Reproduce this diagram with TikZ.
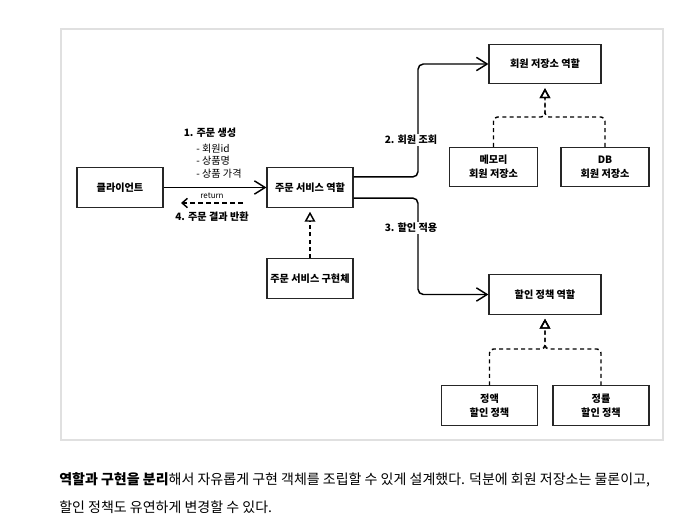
\documentclass[tikz,border=0pt]{standalone}
\usepackage{fontspec}
\setmainfont{Noto Sans CJK KR}
\usetikzlibrary{arrows.meta,positioning}

\begin{document}
\begin{tikzpicture}[x=0.75pt,y=-0.75pt,
    box node/.style={draw=black!85,line width=0.85pt,minimum height=29.5pt,inner sep=0pt,
      align=center,font=\bfseries\fontsize{7.6}{10.2}\selectfont},
    lbl/.style={font=\bfseries\fontsize{7.6}{10}\selectfont,inner sep=1pt},
    call/.style={line width=1.1pt,rounded corners=4pt,
      -{Straight Barb[length=8pt,width=10pt,line width=1.1pt]}},
    back/.style={line width=1.1pt,dash pattern=on 3.5pt off 2.5pt,
      -{Straight Barb[length=4pt,width=7pt,line width=1.1pt]}},
    realize/.style={line width=1.1pt,dash pattern=on 3pt off 2.5pt,rounded corners=3pt,
      shorten >=3pt,-{Triangle[open,length=7.5pt,width=8pt,line width=1.1pt]}}]

  % page and frame
  \fill[white] (0,0) rectangle (699,528);
  \useasboundingbox (0,0) rectangle (699,528);
  \draw[black!12,line width=1.2pt] (61,29) rectangle (663,440);

  % client and order service
  \node[box node,minimum width=64.5pt] (client) at (120,187.5) {클라이언트};
  \node[box node,minimum width=64.5pt] (order role) at (310,187.5) {주문 서비스 역할};
  \node[box node,minimum width=64.5pt] (order impl) at (310,278.5) {주문 서비스 구현체};

  % member repository
  \node[box node,minimum width=84pt] (member role) at (545,64) {회원 저장소 역할};
  \node[box node,minimum width=65.5pt] (memory repo) at (493.5,167) {메모리\\회원 저장소};
  \node[box node,minimum width=66pt] (db repo) at (605,167) {DB\\회원 저장소};

  % discount policy
  \node[box node,minimum width=84pt] (discount role) at (545,294.5) {할인 정책 역할};
  \node[box node,minimum width=71.5pt] (fix policy) at (489.5,405.5) {정액\\할인 정책};
  \node[box node,minimum width=72pt] (rate policy) at (601,405.5) {정률\\할인 정책};

  % bends and joints
  \coordinate (up bend) at (418,120);
  \coordinate (down bend) at (418,250);
  \coordinate (member joint) at (545,117);
  \coordinate (discount joint) at (545,349);
  \coordinate (return start) at (243,203);
  \coordinate (return end) at (181,203);

  % calls
  \draw[call] (client) -- (order role);
  \draw[back] (return start) -- (return end);
  \draw[call] ([yshift=7.9pt]order role.east) -| (up bend) |- (member role.west);
  \draw[call] ([yshift=-7.9pt]order role.east) -| (down bend) |- (discount role.west);

  % realizations
  \draw[realize] (order impl) -- (order role);
  \draw[realize] (memory repo.north) |- (member joint) -- (member role.south);
  \draw[realize] (db repo.north) |- (member joint) -- (member role.south);
  \draw[realize] (fix policy.north) |- (discount joint) -- (discount role.south);
  \draw[realize] (rate policy.north) |- (discount joint) -- (discount role.south);

  % labels
  \node[lbl] (create lbl) at (210,133) {1. 주문 생성};
  \node[anchor=west,align=left,font=\fontsize{7.6}{9.4}\selectfont,inner sep=0pt] (create args) at (196,161)
    {- 회원id\\- 상품명\\- 상품 가격};
  \node[font=\fontsize{6}{7}\selectfont,inner sep=0pt] (return lbl) at (212,196) {return};
  \node[lbl] (result lbl) at (212,217) {4. 주문 결과 반환};
  \node[lbl,fill=white] (lookup lbl) at (411,140) {2. 회원 조회};
  \node[lbl,fill=white] (apply lbl) at (411,228) {3. 할인 적용};

  % caption
  \node[anchor=west,inner sep=0pt,font=\fontsize{10.5}{12}\selectfont] (caption a) at (59,480)
    {\textbf{역할과 구현을 분리}해서 자유롭게 구현 객체를 조립할 수 있게 설계했다. 덕분에 회원 저장소는 물론이고,};
  \node[anchor=west,inner sep=0pt,font=\fontsize{10.5}{12}\selectfont] (caption b) at (59,507)
    {할인 정책도 유연하게 변경할 수 있다.};
\end{tikzpicture}
\end{document}
